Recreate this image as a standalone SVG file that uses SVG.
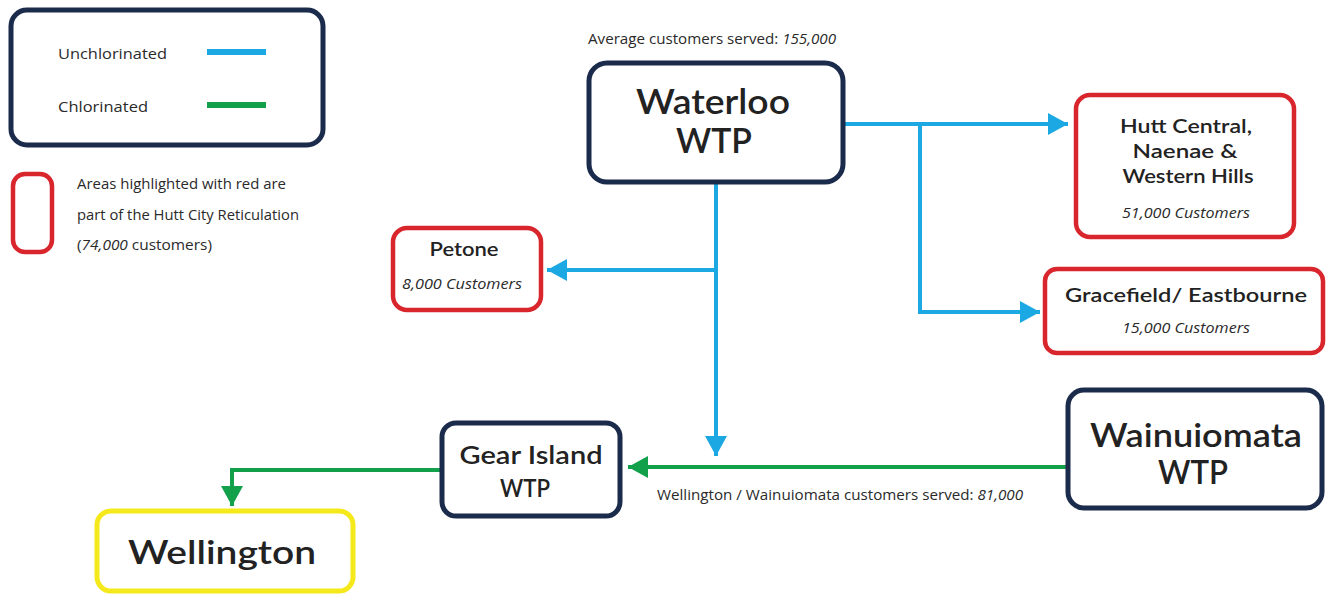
<svg xmlns="http://www.w3.org/2000/svg" width="1329" height="596" viewBox="0 0 1329 596">
<style>
.nav{fill:#fff;stroke:#1b2b4b;stroke-width:5}
.red{fill:#fff;stroke:#d8262c;stroke-width:4.5}
.yel{fill:#fff;stroke:#f5e91c;stroke-width:5}
.t{font-family:Lato,"Noto Sans",sans-serif;fill:#222;text-anchor:middle;font-weight:600}
.s{font-family:"Open Sans","Noto Sans",sans-serif;fill:#2a2a2a;font-size:15px;font-weight:500}
.i{font-style:italic}
.b{stroke:#1ca8e2;stroke-width:4;fill:none}
.g{stroke:#13a04b;stroke-width:4;fill:none}
</style>
<defs>
<marker id="ab" markerUnits="userSpaceOnUse" markerWidth="22" markerHeight="22" refX="20" refY="11" orient="auto"><path d="M0,0L20,11L0,22z" fill="#1ca8e2"/></marker>
<marker id="ag" markerUnits="userSpaceOnUse" markerWidth="22" markerHeight="22" refX="20" refY="11" orient="auto"><path d="M0,0L20,11L0,22z" fill="#13a04b"/></marker>
</defs>
<g id="legend">
<rect class="nav" x="11" y="10" width="312" height="135" rx="16"/>
<text class="s" x="58" y="59" font-size="16" textLength="109" lengthAdjust="spacingAndGlyphs">Unchlorinated</text>
<line x1="207" y1="52" x2="266" y2="52" stroke="#1ca8e2" stroke-width="6"/>
<text class="s" x="58" y="112" font-size="16" textLength="90" lengthAdjust="spacingAndGlyphs">Chlorinated</text>
<line x1="207" y1="105" x2="266" y2="105" stroke="#13a04b" stroke-width="6"/>
<rect class="red" x="13" y="174" width="39" height="78" rx="12"/>
<text class="s" x="77" y="189" font-size="15" textLength="209" lengthAdjust="spacingAndGlyphs">Areas highlighted with red are</text>
<text class="s" x="77" y="220" font-size="15" textLength="222" lengthAdjust="spacingAndGlyphs">part of the Hutt City Reticulation</text>
<text class="s" x="77" y="250" font-size="15" textLength="135" lengthAdjust="spacingAndGlyphs">(<tspan class="i">74,000</tspan> customers)</text>
</g>
<g id="connectors">
<path class="b" d="M845,124H1068" marker-end="url(#ab)"/>
<path class="b" d="M920,124V312H1040" marker-end="url(#ab)"/>
<path class="b" d="M716,184V456" marker-end="url(#ab)"/>
<path class="b" d="M716,270H547" marker-end="url(#ab)"/>
<path class="g" d="M1066,467H628" marker-end="url(#ag)"/>
<path class="g" d="M441,470H232V506" marker-end="url(#ag)"/>
<text class="s" x="657" y="500" font-size="14" textLength="366" lengthAdjust="spacingAndGlyphs">Wellington / Wainuiomata customers served: <tspan class="i">81,000</tspan></text>
</g>
<g id="waterloo">
<text class="s" x="588" y="44" font-size="15" textLength="248" lengthAdjust="spacingAndGlyphs">Average customers served: <tspan class="i">155,000</tspan></text>
<rect class="nav" x="589" y="63" width="254" height="119" rx="18"/>
<text class="t" x="713" y="114" font-size="34" textLength="154" lengthAdjust="spacingAndGlyphs">Waterloo</text>
<text class="t" x="714" y="153" font-size="34" textLength="76" lengthAdjust="spacingAndGlyphs">WTP</text>
</g>
<g id="hutt">
<rect class="red" x="1076" y="95" width="218" height="142" rx="14"/>
<text class="t" x="1186" y="133" font-size="20" textLength="132" lengthAdjust="spacingAndGlyphs">Hutt Central,</text>
<text class="t" x="1185" y="158" font-size="20" textLength="105" lengthAdjust="spacingAndGlyphs">Naenae &amp;</text>
<text class="t" x="1188" y="183" font-size="20" textLength="131" lengthAdjust="spacingAndGlyphs">Western Hills</text>
<text class="s i" x="1186" y="218" font-size="15" text-anchor="middle" textLength="128" lengthAdjust="spacingAndGlyphs">51,000 Customers</text>
</g>
<g id="gracefield">
<rect class="red" x="1045" y="269" width="278" height="84" rx="12"/>
<text class="t" x="1186" y="302" font-size="20" textLength="242" lengthAdjust="spacingAndGlyphs">Gracefield/ Eastbourne</text>
<text class="s i" x="1186" y="333" font-size="15" text-anchor="middle" textLength="128" lengthAdjust="spacingAndGlyphs">15,000 Customers</text>
</g>
<g id="petone">
<rect class="red" x="393" y="228" width="148" height="82" rx="14"/>
<text class="t" x="464" y="256" font-size="19" textLength="69" lengthAdjust="spacingAndGlyphs">Petone</text>
<text class="s i" x="462" y="289" font-size="15" text-anchor="middle" textLength="120" lengthAdjust="spacingAndGlyphs">8,000 Customers</text>
</g>
<g id="gearisland">
<rect class="nav" x="442" y="423" width="178" height="93" rx="14"/>
<text class="t" x="531" y="464" font-size="24" textLength="143" lengthAdjust="spacingAndGlyphs">Gear Island</text>
<text class="t" x="525" y="497" font-size="24" textLength="50" lengthAdjust="spacingAndGlyphs">WTP</text>
</g>
<g id="wainuiomata">
<rect class="nav" x="1068" y="390" width="254" height="118" rx="16"/>
<text class="t" x="1196" y="447" font-size="32" textLength="212" lengthAdjust="spacingAndGlyphs">Wainuiomata</text>
<text class="t" x="1193" y="484" font-size="32" textLength="70" lengthAdjust="spacingAndGlyphs">WTP</text>
</g>
<g id="wellington">
<rect class="yel" x="97" y="511" width="256" height="80" rx="14"/>
<text class="t" x="222" y="564" font-size="33" textLength="188" lengthAdjust="spacingAndGlyphs">Wellington</text>
</g>
</svg>
